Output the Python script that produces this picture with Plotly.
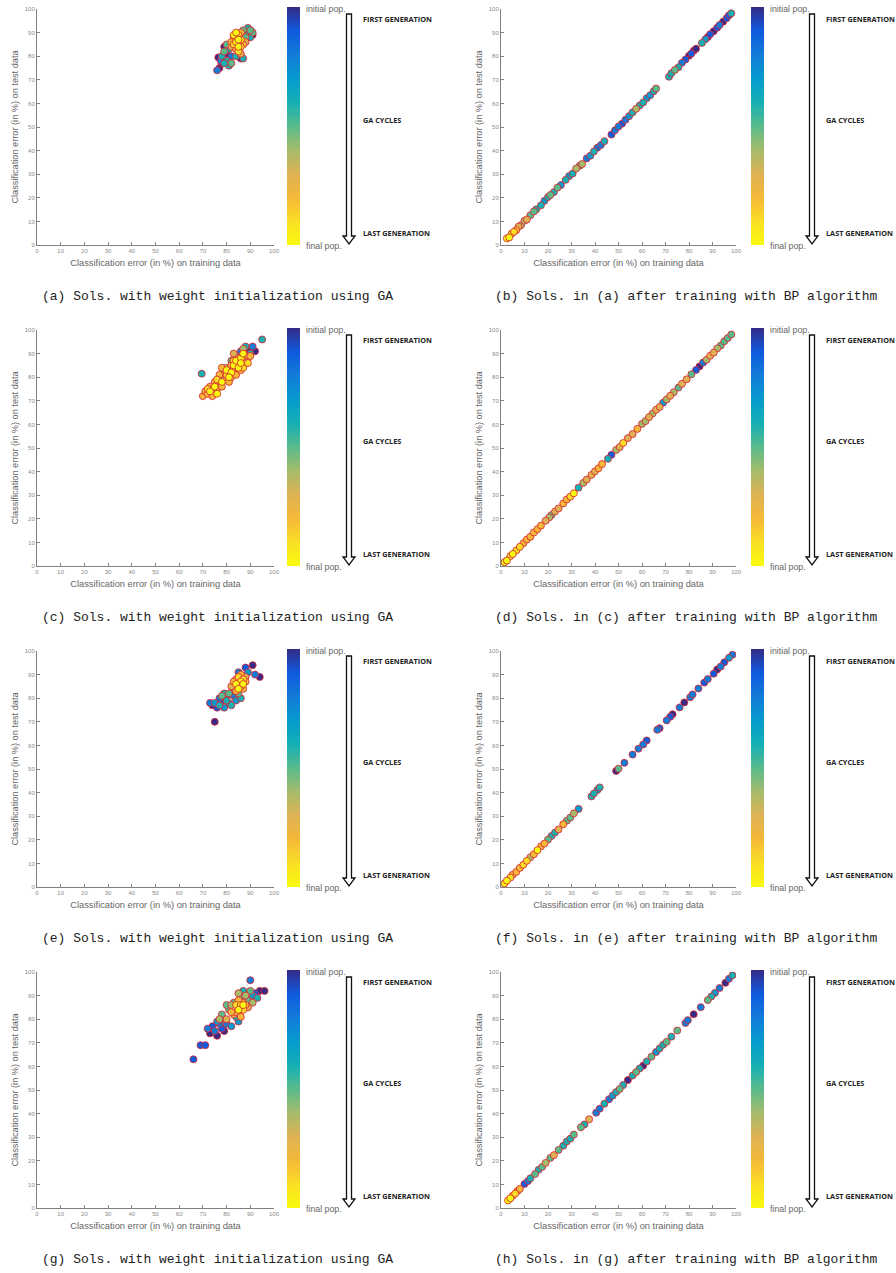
import plotly.graph_objects as go

# ---------------- data ----------------
# gen_left: generations remaining before the final population (10 = initial pop., 0 = final pop.)
a_train = [76.5,77,78,80,89,91,86,79, 76,77.5,82,90,88, 78,80,81,83,84,87,88,90,86,89,85,79,81, 79,82,86,91,84,87,80,88,90, 82,86,88, 83,85,82,86,84,87, 83,85,84,86,85, 84,83,85,84,86,85]
a_test = [79.5,75,77,81,90,89,79,84, 74,78,80,91,87, 80,78,76,86,80,79,90,88,88,92,83,77,83, 82,77,85,90,89,91,85,88,91, 84,81,86, 88,86,86,90,83,85, 85,89,87,84,82, 86,89,84,90,87,87]
a_gen = [10,10,10,10,10,10,10,10, 8,8,8,8,8, 6,6,6,6,6,6,6,6,6,6,6,6,6, 5,5,5,5,5,5,5,5,5, 3,3,3, 2,2,2,2,2,2, 1,1,1,1,1, 0,0,0,0,0,0]

b_train = [2.5,3.5,4.5,5.5,6.5,7.5,8.5,10,11,12.5, 14,15,17,18.5,20,21,22.5,24,25.5,27.5, 29,30.5,32,33.5,34.5,36.5,38,39.5,41,42.5, 44,47,48.5,50,51.5,53,54.5,56,57.5,59, 60.5,62,63.5,65,66,71.5,72.5,74,75.5,77, 78.5,80,81,82,83,85.5,87,88,89,90.5, 92,93,94.5,96,97,98]
b_test = [2.8,3.2,4.8,5.6,6.3,7.8,8.4,10.3,10.8,12.6, 14.2,15.1,16.8,18.7,20.3,21.2,22.4,24.3,25.4,27.6, 29.2,30.3,32.4,33.6,34.3,36.7,37.8,39.6,41.2,42.4, 44,46.8,48.6,50.2,51.4,53.1,54.6,56.2,57.7,59.1, 60.4,62.2,63.5,65.2,66.3,71.3,72.8,74.2,75.3,77.2, 78.6,80.2,81.1,82.3,83.2,85.6,87.2,88.1,89.3,90.6, 92.1,93.2,94.6,96.1,97.3,98.2]
b_gen = [0,0,1,1,2,3,4,4,3,5, 5,6,6,7,6,5,6,5,7,6, 7,6,4,5,4,8,7,6,8,8, 6,9,8,8,9,8,7,6,4,6, 6,7,7,6,5,6,6,5,6,8, 9,10,9,10,10,6,7,10,9,10, 9,8,10,9,9,6]

c_train = [89,92,87, 91,86, 69.5,95,88,84,90, 86,82,89, 80,85,87,78, 83,88,76,82, 70,71,72,73,74,75,76,77,78,79,80,81,82,83,84,85,86,87,88,90,74,78,81,84,86, 72,76,80,83,87,89, 73,75,76,78,80,82,83,85,84,86,87,86,81]
c_test = [92,91,90, 93,91, 81.5,96,93,89,90, 88,87,88, 84,86,92,80, 90,89,78,80, 72,74,73,76,72,78,75,81,76,83,79,82,85,84,81,88,85,87,86,89,75,84,78,86,83, 75,79,81,87,84,86, 74,76,73,78,83,82,85,84,87,88,90,86,80]
c_gen = [10,10,10, 8,8, 6,6,6,6,6, 5,5,5, 4,4,4,4, 3,3,3,3, 2,2,2,2,2,2,2,2,2,2,2,2,2,2,2,2,2,2,2,2,2,2,2,2,2, 1,1,1,1,1,1, 0,0,0,0,0,0,0,0,0,0,0,0,0]

d_train = [1.5,2.5,4,5,6.5,8,9.5,11,12.5,14, 15.5,17,19,20.5,21.5,23,24.5,26.5,28,29.5, 31,33,35,36.5,38.5,40,41.5,43,45.5,47, 49,50.5,52,54,56,58,60,61.5,63,64.5, 66,67.5,69,70.5,72,73.5,75.5,77,79,81, 83,84.5,86,87.5,89,90.5,92,93.5,95,96.5, 98]
d_test = [1.6,2.3,4.2,5.1,6.6,8.1,9.6,11.2,12.4,14.2, 15.6,17.1,19.2,20.6,21.6,23.1,24.4,26.5,28.2,29.4, 30.8,33.2,35.2,36.6,38.6,40.1,41.4,43.2,45.4,47.1, 49.2,50.4,52.1,54.2,55.9,58.1,60.2,61.4,63.1,64.6, 66.2,67.4,69.2,70.6,72.1,73.6,75.6,77.2,79.1,81.2, 83.1,84.6,86.2,87.4,89.1,90.4,92.2,93.4,95.2,96.6, 98.1]
d_gen = [0,0,1,0,1,1,2,2,2,2, 2,2,3,4,5,3,3,2,2,1, 0,6,4,3,3,3,2,2,6,9, 4,3,1,3,3,2,4,4,3,4, 3,3,7,4,3,4,5,3,3,5, 9,10,8,4,3,3,4,5,5,5, 5]

e_train = [75,91,94,80,74, 76,88,78, 73,77,92,83,85, 75,79,81,84,89, 77,80,82,79,86,83, 81,85,78, 84,88,82, 85,87,86,83,88,84, 86,85,87, 86,84,87,85]
e_test = [70,94,89,81,77, 76,93,79, 78,80,90,81,91, 78,76,78,79,91, 77,79,77,82,80,84, 82,82,81, 88,89,85, 86,84,90,87,87,83, 85,89,88, 87,86,86,84]
e_gen = [10,10,10,10,10, 9,9,9, 8,8,8,8,8, 7,7,7,7,7, 6,6,6,6,6,6, 5,5,5, 3,3,3, 2,2,2,2,2,2, 1,1,1, 0,0,0,0]

f_train = [1.5,2.5,4,5,6.5,8,9.5,11,12.5,14, 15.5,17,18.5,20,21.5,23,24.5,26.5,28,29.5, 31,33,38.5,39.5,41,42,49,50,52.5,56, 58.5,60.5,62,66.5,67.5,70.5,72,73,76,78, 80.5,81.5,84,86.5,88,90.5,92,93.5,95,97, 98.5]
f_test = [1.5,2.7,4,5.2,6.4,8.1,9.4,11.1,12.6,13.9, 15.6,17.2,18.4,20.1,21.6,23.1,24.4,26.6,28.1,29.4, 31.2,33.1,38.4,39.6,41.1,42.2,49.2,50.1,52.6,56.1, 58.6,60.4,62.1,66.6,67.3,70.6,72.1,73.2,76.1,78.2, 80.4,81.6,84.1,86.6,88.1,90.4,92.2,93.4,95.2,97.1, 98.4]
f_gen = [0,0,1,2,2,2,1,1,4,2, 0,2,2,5,6,6,3,2,5,5, 4,7,6,6,7,6,10,5,8,8, 8,8,9,8,9,8,9,10,8,10, 8,8,8,9,8,9,10,8,9,7, 8]

g_train = [73,76,79,94,96, 66,69,71,74,78,92, 72,77,80,90,88,75, 82,85,91,76, 79,87,93,84, 78,81,89,83,86,80,90, 77,82,88,85,91, 80,83,86,89,87, 84,86,88,82,85, 85,87,84, 86,85,87]
g_test = [74,73,75,92,92, 63,69,69,77,76,91, 76,78,78,96.5,91,75, 77,79,90,79, 80,92,89,81, 82,84,88,87,89,86,92, 80,86,90,91,87, 80,82,84,85,87, 83,81,86,83,88, 85,84,86, 86,84,86]
g_gen = [10,10,10,10,10, 9,9,9,9,9,9, 8,8,8,8,8,8, 7,7,7,7, 6,6,6,6, 5,5,5,5,5,5,5, 4,4,4,4,4, 3,3,3,3,3, 2,2,2,2,2, 1,1,1, 0,0,0]

h_train = [3,4,5,6,7,8,10,11.5,12.5,14.5, 16,17.5,19,21,22.5,24.5,26.5,28,29.5,31, 34,35.5,37.5,40.5,42,44,46,47.5,49,50.5, 52,54,56,57.5,59,60.5,62,64,66,67.5, 69,70.5,72.5,75,78.5,79.5,82,85,88,89.5, 91,93,95.5,97,98.5]
h_test = [3.2,4.1,5.2,6.1,7.2,8.1,10.2,11.4,12.6,14.4, 16.2,17.4,19.1,21.2,22.4,24.6,26.4,28.2,29.4,31.1, 34.2,35.4,37.6,40.4,42.1,44.2,46.1,47.6,49.1,50.4, 52.1,54.2,56.1,57.6,59.1,60.3,62.1,64.1,66.1,67.6, 69.2,70.4,72.6,75.2,78.4,79.6,82.1,85.1,88.1,89.6, 91.1,93.2,95.4,97.1,98.6]
h_gen = [0,0,1,1,2,2,9,8,6,5, 6,5,4,5,3,5,6,6,6,5, 5,6,3,8,8,6,8,7,6,5, 6,10,6,5,6,10,6,5,7,6, 6,5,6,5,8,8,10,8,5,6, 7,8,10,8,6]

captions = [
    "(a) Sols. with weight initialization using GA",
    "(b) Sols. in (a) after training with BP algorithm",
    "(c) Sols. with weight initialization using GA",
    "(d) Sols. in (c) after training with BP algorithm",
    "(e) Sols. with weight initialization using GA",
    "(f) Sols. in (e) after training with BP algorithm",
    "(g) Sols. with weight initialization using GA",
    "(h) Sols. in (g) after training with BP algorithm",
]
ticks = [0, 10, 20, 30, 40, 50, 60, 70, 80, 90, 100]
x_title = "Classification error (in %) on training data"
y_title = "Classification error (in %) on test data"
cb_top_label = "initial pop."
cb_bottom_label = "final pop."
stage_labels = ["FIRST GENERATION", "GA CYCLES", "LAST GENERATION"]

series = [
    (a_train, a_test, a_gen), (b_train, b_test, b_gen),
    (c_train, c_test, c_gen), (d_train, d_test, d_gen),
    (e_train, e_test, e_gen), (f_train, f_test, f_gen),
    (g_train, g_test, g_gen), (h_train, h_test, h_gen),
]

# ---------------- style / layout ----------------
W, H = 896, 1273
ROW_STEP = 321
COL_PLOT = [(37, 274), (501, 736)]
COL_CB = [287, 751]
COL_CBTXT = [304, 768]
COL_ARROW = [349, 812]
COL_STAGE = [361, 824]
COL_CAP = [217, 686]

# reversed parula: 0 -> yellow (final), 1 -> dark blue (initial)
PARULA_R = [
    [0.0, "rgb(249,251,14)"], [0.1, "rgb(250,222,36)"], [0.2, "rgb(245,184,56)"],
    [0.3, "rgb(222,178,84)"], [0.4, "rgb(165,188,107)"], [0.5, "rgb(89,187,140)"],
    [0.6, "rgb(21,175,180)"], [0.7, "rgb(7,154,207)"], [0.8, "rgb(18,123,216)"],
    [0.9, "rgb(15,90,221)"], [1.0, "rgb(53,42,135)"],
]

def px(x):
    return x / W

def py(y):
    return 1 - y / H

fig = go.Figure()
shapes = []
annotations = []
SANS = "Liberation Sans, Arial, sans-serif"

for i, (xs, ys, gs) in enumerate(series):
    r, c = divmod(i, 2)
    off = ROW_STEP * r
    x0, x1 = COL_PLOT[c]
    top, bot = 9 + off, 245 + off
    sfx = "" if i == 0 else str(i + 1)

    order = sorted(range(len(gs)), key=lambda k: -gs[k])
    fig.add_trace(go.Scatter(
        x=[xs[k] for k in order], y=[ys[k] for k in order],
        mode="markers", xaxis="x" + sfx, yaxis="y" + sfx,
        marker=dict(
            size=7, color=[gs[k] for k in order], cmin=0, cmax=10,
            colorscale=PARULA_R, showscale=True,
            line=dict(color="rgba(214,40,50,0.85)", width=1),
            colorbar=dict(
                x=px(COL_CB[c]), xanchor="left", y=py(245 + off), yanchor="bottom",
                len=238, lenmode="pixels", thickness=13, thicknessmode="pixels",
                outlinewidth=0, showticklabels=False, ticks="", xpad=0, ypad=0,
            ),
        ),
        hoverinfo="skip", showlegend=False,
    ))

    common = dict(
        range=[0, 100], tickvals=ticks, showgrid=False, zeroline=False,
        showline=True, linecolor="#808080", linewidth=1, ticks="inside",
        ticklen=3, tickcolor="#808080", tickfont=dict(size=6, color="#8a8a8a", family=SANS),
        automargin=False, fixedrange=True,
    )
    fig.update_layout(**{
        "xaxis" + sfx: dict(
            domain=[px(x0), px(x1)], anchor="y" + sfx,
            title=dict(text=x_title, font=dict(size=9.3, color="#666666", family=SANS), standoff=6),
            **common),
        "yaxis" + sfx: dict(
            domain=[py(bot), py(top)], anchor="x" + sfx,
            title=dict(text=y_title, font=dict(size=9.2, color="#666666", family=SANS), standoff=4),
            **common),
    })

    # colorbar end labels
    annotations.append(dict(x=px(COL_CBTXT[c]), y=py(9 + off), xref="paper", yref="paper",
                            text=cb_top_label, showarrow=False, xanchor="left", yanchor="middle",
                            font=dict(size=8.8, color="#666666", family=SANS)))
    annotations.append(dict(x=px(COL_CBTXT[c]), y=py(246 + off), xref="paper", yref="paper",
                            text=cb_bottom_label, showarrow=False, xanchor="left", yanchor="middle",
                            font=dict(size=8.8, color="#666666", family=SANS)))
    # stage labels
    for lbl, yy in zip(stage_labels, [19, 120, 233]):
        annotations.append(dict(x=px(COL_STAGE[c]), y=py(yy + off), xref="paper", yref="paper",
                                text="<b>" + lbl + "</b>", showarrow=False, xanchor="left",
                                yanchor="middle", font=dict(size=7.3, color="#222", family="Open Sans")))
    # caption
    annotations.append(dict(x=px(COL_CAP[c]), y=py(296 + off), xref="paper", yref="paper",
                            text=captions[i], showarrow=False, xanchor="center", yanchor="middle",
                            font=dict(size=13, color="#222", family="Liberation Mono")))
    # hollow arrow
    cx = COL_ARROW[c]
    yt, yh, yb = 14 + off, 236 + off, 244 + off
    pts = [(cx - 2.5, yt), (cx + 2.5, yt), (cx + 2.5, yh), (cx + 6, yh), (cx, yb),
           (cx - 6, yh), (cx - 2.5, yh)]
    path = "M " + " L ".join(f"{px(a):.6f},{py(b):.6f}" for a, b in pts) + " Z"
    shapes.append(dict(type="path", path=path, xref="paper", yref="paper",
                       line=dict(color="#111", width=1.3), fillcolor="white"))

fig.update_layout(
    width=W, height=H, margin=dict(l=0, r=0, t=0, b=0),
    paper_bgcolor="white", plot_bgcolor="white", template="none",
    showlegend=False, shapes=shapes, annotations=annotations,
)
fig.write_html("out.html")
